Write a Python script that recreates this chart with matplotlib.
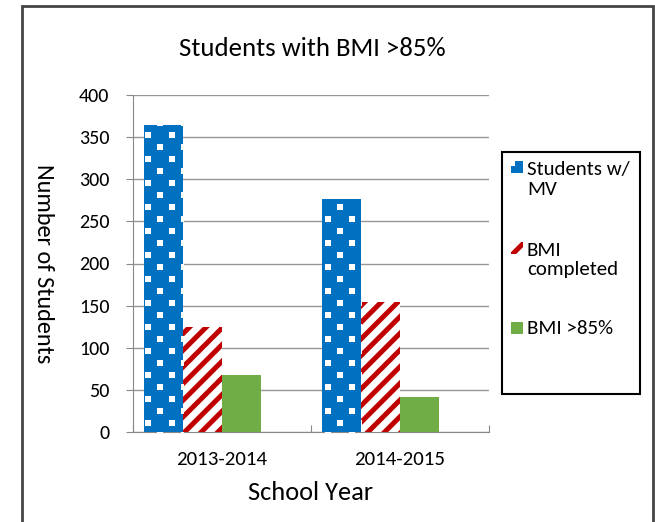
import matplotlib
matplotlib.use("Agg")
import matplotlib.pyplot as plt
from matplotlib.patches import Rectangle
from matplotlib.transforms import IdentityTransform
import numpy as np

plt.rcParams['font.family'] = ['Carlito', 'Lato', 'DejaVu Sans']
plt.rcParams['hatch.linewidth'] = 3.6

categories = ["2013-2014", "2014-2015"]
series_names = ["Students w/\nMV", "BMI\ncompleted", "BMI >85%"]
students_mv = [364, 276]
bmi_completed = [125, 154]
bmi_over85 = [68, 41]
yticks = [0, 50, 100, 150, 200, 250, 300, 350, 400]

BLUE, RED, GREEN = '#0070C0', '#C00000', '#70AD47'

W, H = 655, 522
fig = plt.figure(figsize=(W/100, H/100), dpi=100)
ax = fig.add_axes([133/W, 1-432/H, (489-133)/W, (432-95)/H])

x = np.arange(len(categories))
w = 0.219

b1 = ax.bar(x - 1.5*w, students_mv, w, color=BLUE, linewidth=0, zorder=3, label=series_names[0])
b2 = ax.bar(x - 0.5*w, bmi_completed, w, color='white', edgecolor=RED, linewidth=0, hatch='//',
            zorder=3, label=series_names[1])
b3 = ax.bar(x + 0.5*w, bmi_over85, w, color=GREEN, linewidth=0, zorder=3, label=series_names[2])

ax.set_xlim(-0.5, 1.5)
ax.set_ylim(0, 400)
ax.set_yticks(yticks)
ax.set_yticklabels([str(t) for t in yticks], fontsize=14.5)
ax.set_xticks([-0.5, 0.5, 1.5])
ax.set_xticklabels([])
ax.set_xticks(x, minor=True)
ax.set_xticklabels(categories, minor=True, fontsize=15)
ax.tick_params(axis='x', which='minor', length=0, pad=14)
ax.tick_params(axis='x', which='major', length=5, color='#888888', direction='in')
ax.tick_params(axis='y', length=5, color='#888888', direction='out', pad=12)
ax.grid(axis='y', color='#969696', linewidth=1, zorder=0)
for s in ['top', 'right']:
    ax.spines[s].set_visible(False)
for s in ['left', 'bottom']:
    ax.spines[s].set_color('#888888')

ax.set_xlabel("School Year", fontsize=19)
ax.xaxis.set_label_coords(0.5, -(492-432)/(432-95))
ax.xaxis.label.set_va('center')
ax.set_ylabel("Number of Students", fontsize=17.5, rotation=-90, va='center')
ax.yaxis.set_label_coords(-(133-43)/(489-133), 0.5)

fig.text(312/W, 1-49/H, "Students with BMI >85%", fontsize=19.3, ha='center', va='center')

# white square dot pattern on the blue bars (pixel grid, clipped to each bar)
fig.canvas.draw()
gx, gy = [], []
for j, yy in enumerate(np.arange(0, H, 12)):
    off = 0 if j % 2 == 0 else 12
    for xx in np.arange(4 + off, W, 24):
        gx.append(xx)
        gy.append(yy + 3)
for bar in b1:
    sc = ax.scatter(gx, gy, s=13, marker='s', color='white', linewidths=0,
                    transform=IdentityTransform(), zorder=4)
    sc.set_clip_path(bar)

# outer frame
fig.add_artist(Rectangle((22/W, -0.02), (653-22)/W, 1-6/H+0.02, transform=fig.transFigure,
                         fill=False, edgecolor='#444444', linewidth=2))
# legend frame
fig.add_artist(Rectangle((502/W, 1-394/H), (640-502)/W, (394-152)/H, transform=fig.transFigure,
                         fill=False, edgecolor='black', linewidth=1.5))

# legend entries
marker_y = [167, 248, 328]
text_y = [179.5, 260, 328]
styles = [dict(facecolor=BLUE, linewidth=0),
          dict(facecolor='white', edgecolor=RED, linewidth=0, hatch='//'),
          dict(facecolor=GREEN, linewidth=0)]
for name, my, ty, st in zip(series_names, marker_y, text_y, styles):
    fig.add_artist(Rectangle((511/W, 1-(my+6)/H), 12/W, 12/H, transform=fig.transFigure, **st))
    fig.text(527/W, 1-ty/H, name, fontsize=15, ha='left', va='center', linespacing=1.2)
# white notch on blue legend key
fig.add_artist(Rectangle((511/W, 1-(marker_y[0]-1)/H), 4/W, 5/H, transform=fig.transFigure,
                         facecolor='white', linewidth=0))

fig.savefig("out.png", dpi=100)
